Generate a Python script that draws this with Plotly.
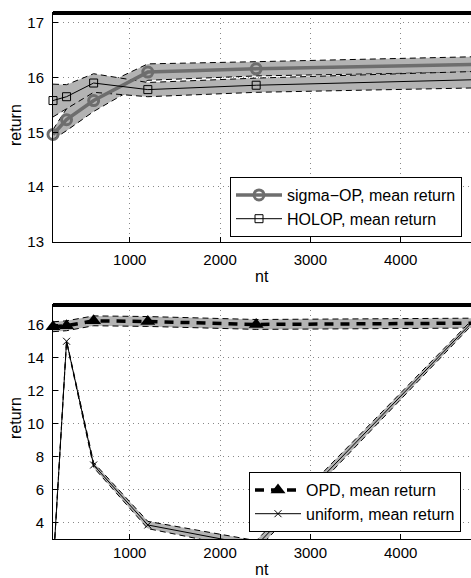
import plotly.graph_objects as go

nt = [150, 300, 600, 1200, 2400, 4800]

# top panel
sigma_mean = [14.96, 15.23, 15.58, 16.10, 16.16, 16.24]
sigma_err = [0.09, 0.20, 0.20, 0.15, 0.13, 0.14]
holop_mean = [15.58, 15.65, 15.90, 15.78, 15.86, 15.96]
holop_err = [0.30, 0.22, 0.17, 0.13, 0.13, 0.15]

# bottom panel
opd_mean = [15.88, 15.94, 16.24, 16.20, 16.02, 16.10]
opd_err = [0.30, 0.30, 0.30, 0.30, 0.30, 0.30]
unif_mean = [1.2, 15.0, 7.49, 3.85, 2.6, 16.2]
unif_err = [0.05, 0.05, 0.15, 0.22, 0.30, 0.15]

W, H = 471, 578
L, R, T, B = 53, 0, 13, 39
PW, PH = W - L - R, H - T - B


def py(p):
    return (H - B - p) / PH


def px(p):
    return (p - L) / PW


FONT = "Liberation Sans, Arial, sans-serif"
BAND = "#b3b3b3"

fig = go.Figure()


def add_band(mean, err, xa, ya):
    up = [m + e for m, e in zip(mean, err)]
    lo = [m - e for m, e in zip(mean, err)]
    fig.add_trace(go.Scatter(x=nt + nt[::-1], y=up + lo[::-1], fill="toself",
                             fillcolor=BAND, line=dict(width=0), mode="lines",
                             showlegend=False, hoverinfo="skip", xaxis=xa, yaxis=ya))
    for edge in (up, lo):
        fig.add_trace(go.Scatter(x=nt, y=edge, mode="lines",
                                 line=dict(color="black", width=1, dash="6px,4px"),
                                 showlegend=False, hoverinfo="skip", xaxis=xa, yaxis=ya))


add_band(sigma_mean, sigma_err, "x", "y")
add_band(holop_mean, holop_err, "x", "y")
fig.add_trace(go.Scatter(x=nt, y=sigma_mean, mode="lines+markers", name="sigma\u2212OP, mean return",
                         line=dict(color="#6e6e6e", width=3.5),
                         marker=dict(symbol="circle-open", size=10, color="#6e6e6e", line=dict(width=3)),
                         xaxis="x", yaxis="y", legend="legend", cliponaxis=False))
fig.add_trace(go.Scatter(x=nt, y=holop_mean, mode="lines+markers", name="HOLOP, mean return",
                         line=dict(color="black", width=1),
                         marker=dict(symbol="square-open", size=8, color="black", line=dict(width=1)),
                         xaxis="x", yaxis="y", legend="legend", cliponaxis=False))

add_band(opd_mean, opd_err, "x2", "y2")
add_band(unif_mean, unif_err, "x2", "y2")
fig.add_trace(go.Scatter(x=nt, y=opd_mean, mode="lines+markers", name="OPD, mean return",
                         line=dict(color="black", width=3.5, dash="9px,7px"),
                         marker=dict(symbol="triangle-up", size=13, color="black"),
                         xaxis="x2", yaxis="y2", legend="legend2", cliponaxis=False))
fig.add_trace(go.Scatter(x=nt, y=unif_mean, mode="lines+markers", name="uniform, mean return",
                         line=dict(color="black", width=1),
                         marker=dict(symbol="x-thin-open", size=7, color="black", line=dict(width=1)),
                         xaxis="x2", yaxis="y2", legend="legend2"))

axis_common = dict(showline=True, linecolor="black", linewidth=1, mirror=True,
                   ticks="inside", ticklen=5, tickcolor="black",
                   showgrid=True, gridcolor="#888888", griddash="1px,4px", gridwidth=1,
                   zeroline=False, tickfont=dict(family=FONT, size=15, color="black"))

x_range = [150, 150 + PW / 90.3 * 1000]
LEGFONT = dict(family=FONT, size=16, color="black")
fig.update_layout(
    width=W, height=H, margin=dict(l=L, r=R, t=T, b=B),
    paper_bgcolor="white", plot_bgcolor="white",
    font=dict(family=FONT, size=15, color="black"),
    xaxis=dict(domain=[0, 1], anchor="y", range=x_range, tickvals=[1000, 2000, 3000, 4000],
               ticklabelstandoff=4, **axis_common),
    yaxis=dict(domain=[py(241.7), 1], anchor="x", range=[13, 17.18], tickvals=[13, 14, 15, 16, 17],
               ticklabelstandoff=5, **axis_common),
    xaxis2=dict(domain=[0, 1], anchor="y2", range=x_range, tickvals=[1000, 2000, 3000, 4000],
                ticklabelstandoff=0, **axis_common),
    yaxis2=dict(domain=[0, py(305)], anchor="x2", range=[3, 17.2], tickvals=[4, 6, 8, 10, 12, 14, 16],
                ticklabelstandoff=5, **axis_common),
    legend=dict(x=px(462), y=py(237), xanchor="right", yanchor="bottom",
                bgcolor="white", bordercolor="black", borderwidth=1, itemwidth=46,
                font=LEGFONT, tracegroupgap=0),
    legend2=dict(x=px(461), y=py(532), xanchor="right", yanchor="bottom",
                 bgcolor="white", bordercolor="black", borderwidth=1, itemwidth=46,
                 font=LEGFONT, tracegroupgap=0),
    showlegend=True,
)

# thick top borders
for ytop in (1.0, py(305)):
    fig.add_shape(type="line", xref="paper", yref="paper", x0=0, x1=1, y0=ytop, y1=ytop,
                  line=dict(color="black", width=4))

for txt, x, y, ang in [("return", 15, 125, -90), ("return", 15, 418, -90),
                       ("nt", 262, 276, 0), ("nt", 262, 569, 0)]:
    fig.add_annotation(text=txt, xref="paper", yref="paper", x=px(x), y=py(y),
                       showarrow=False, textangle=ang, xanchor="center", yanchor="middle",
                       font=dict(family=FONT, size=16, color="black"))

fig.write_html("out.html", config={"displayModeBar": False},
               post_script="document.body.style.margin='0px';")
